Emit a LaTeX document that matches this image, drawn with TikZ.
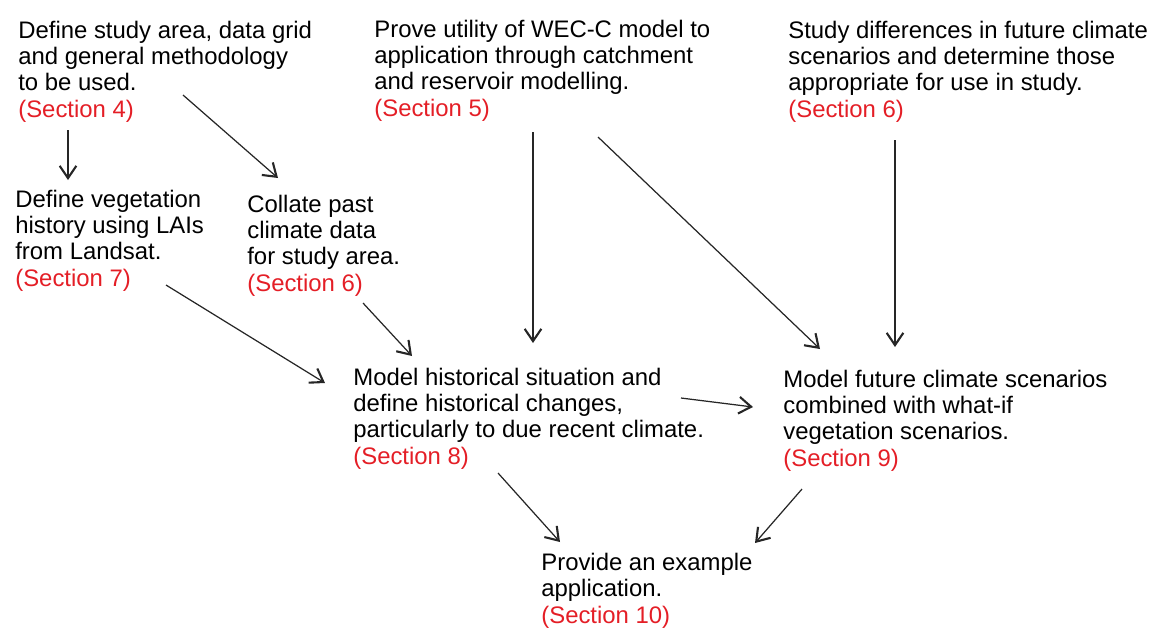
\documentclass[tikz,border=0pt]{standalone}
\usepackage{fontspec}
\setmainfont{Liberation Sans}
\usetikzlibrary{arrows.meta,calc}

\definecolor{secred}{RGB}{228,30,38}

\tikzset{
  stage/.style={anchor=base west, inner sep=0pt, align=left,
    font=\fontsize{13.6}{14.9}\selectfont},
  flow/.style={-{Straight Barb[length=7pt,width=9.5pt,line width=1.2pt]}, line width=0.7pt, draw=black!85}
}
\newcommand{\sect}[1]{\textcolor{secred}{(Section #1)}}

\begin{document}
\begin{tikzpicture}[x=0.02cm, y=-0.02cm]
      \useasboundingbox (0,0) rectangle (1151,627);

      % top row (placed at the baseline of the last line)
      \node[stage] (area) at (18,117) {Define study area, data grid\\and general methodology\\to be used.\\\sect{4}};
      \node[stage] (wecc) at (374,116) {Prove utility of WEC-C model to\\application through catchment\\and reservoir modelling.\\\sect{5}};
      \node[stage] (scen) at (788,117) {Study differences in future climate\\scenarios and determine those\\appropriate for use in study.\\\sect{6}};

      % second row
      \node[stage] (veg) at (15,286) {Define vegetation\\history using LAIs\\from Landsat.\\\sect{7}};
      \node[stage] (past) at (247,291) {Collate past\\climate data\\for study area.\\\sect{6}};

      % models
      \node[stage] (hist) at (353,464) {Model historical situation and\\define historical changes,\\particularly to due recent climate.\\\sect{8}};
      \node[stage] (fut) at (783,466) {Model future climate scenarios\\combined with what-if\\vegetation scenarios.\\\sect{9}};

      % result
      \node[stage] (app) at (541,623) {Provide an example\\application.\\\sect{10}};

      \draw[flow] ($(area.base west)+(50,13)$) -- ($(veg.base west)+(53,-106)$);
      \draw[flow] ($(area.base west)+(165,-22)$) -- ($(past.base west)+(31,-113)$);
      \draw[flow] ($(veg.base west)+(151,-1)$) -- ($(hist.base west)+(-28,-81)$);
      \draw[flow] ($(past.base west)+(116,12)$) -- ($(hist.base west)+(59,-108)$);
      \draw[flow] ($(wecc.base west)+(159,16)$) -- ($(hist.base west)+(180,-121)$);
      \draw[flow] ($(wecc.base west)+(224,21)$) -- ($(fut.base west)+(37,-117)$);
      \draw[flow] ($(scen.base west)+(107,23)$) -- ($(fut.base west)+(112,-119)$);
      \draw[flow] ($(hist.base west)+(328,-66)$) -- ($(fut.base west)+(-30,-59)$);
      \draw[flow] ($(hist.base west)+(145,9)$) -- ($(app.base west)+(19,-81)$);
      \draw[flow] ($(fut.base west)+(19,23)$) -- ($(app.base west)+(214,-80)$);
    \end{tikzpicture}
\end{document}
